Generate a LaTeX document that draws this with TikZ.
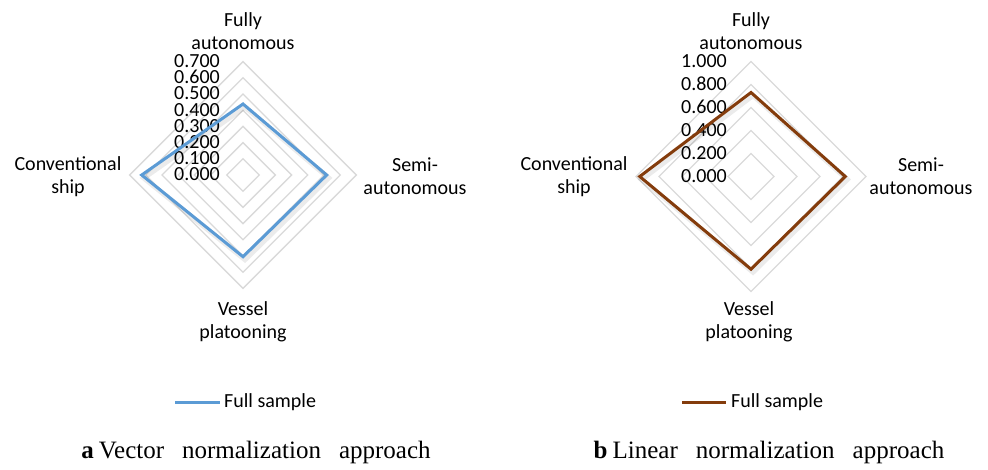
\documentclass[tikz,border=0pt]{standalone}
\usepackage{fontspec}
\setmainfont{Liberation Serif}
\newfontfamily\calibri{Carlito}
\usetikzlibrary{positioning}
\definecolor{vecblue}{RGB}{91,155,213}
\definecolor{linbrown}{RGB}{132,60,12}
\definecolor{ringgray}{RGB}{217,217,217}
\tikzset{
  ring/.style={draw=ringgray, line width=1.3pt},
  catlabel/.style={font=\calibri\fontsize{20}{23}\selectfont, align=center, inner sep=0pt},
  ticklabel/.style={font=\calibri\fontsize{20}{20}\selectfont, anchor=east, inner sep=0pt,
    text height=12.5pt, text depth=0pt, yshift=-6pt, anchor=south east},
  legendtext/.style={font=\calibri\fontsize{20}{20}\selectfont, anchor=west, inner sep=0pt},
  captiontext/.style={font=\fontsize{25}{28}\selectfont, inner sep=0pt},
  seriesshadow/.style={draw=black, line width=5pt, opacity=0.08, line join=miter},
  series/.style={line width=3pt, line join=miter},
}

\begin{document}
\begin{tikzpicture}[x=1pt, y=-1pt]
    \useasboundingbox (0,0) rectangle (988,469);

    % (a) vector normalization
    \begin{scope}[shift={(243,175)}]
        % grid rings, 0.1 apart
        \foreach \k in {1,...,7} {
            \draw[ring] (0,-16.2*\k) -- (16.2*\k,0) -- (0,16.2*\k) -- (-16.2*\k,0) -- cycle;
        }
        % axis values
        \foreach \k in {0,...,7} {
            \node[ticklabel] (va\k) at (-23,-16.2*\k) {0.\k00};
        }
        % data points
        \coordinate (afa) at (0,-71);
        \coordinate (asa) at (83.7,0);
        \coordinate (avp) at (0,81.7);
        \coordinate (acs) at (-101.3,0);
        \draw[seriesshadow, transform canvas={xshift=2pt, yshift=-3pt}] (afa) -- (asa) -- (avp) -- (acs) -- cycle;
        \draw[series, vecblue] (afa) -- (asa) -- (avp) -- (acs) -- cycle;
        % categories
        \node[catlabel] (atop) at (0,-143.5) {Fully\\autonomous};
        \node[catlabel] (aright) at (172,1.5) {Semi-\\autonomous};
        \node[catlabel] (aleft) at (-175,1.5) {Conventional\\ship};
        \node[catlabel] (abottom) at (0,146.5) {Vessel\\platooning};
    \end{scope}

    % legend (a)
    \coordinate (alegA) at (175,402);
    \coordinate (alegB) at (220,402);
    \draw[vecblue, line width=3pt] (alegA) -- (alegB);
    \node[legendtext] (alegtext) at (224,402) {Full sample};

    % (b) linear normalization
    \begin{scope}[shift={(751,176.5)}]
        % grid rings, 0.2 apart
        \foreach \k in {1,...,5} {
            \draw[ring] (0,-23*\k) -- (23*\k,0) -- (0,23*\k) -- (-23*\k,0) -- cycle;
        }
        % axis values
        \foreach \k/\v in {0/0.000,1/0.200,2/0.400,3/0.600,4/0.800,5/1.000} {
            \node[ticklabel] (vb\k) at (-24,-23*\k) {\v};
        }
        % data points
        \coordinate (bfa) at (0,-84);
        \coordinate (bsa) at (94.3,0);
        \coordinate (bvp) at (0,92.7);
        \coordinate (bcs) at (-111.3,0);
        \draw[seriesshadow, transform canvas={xshift=2pt, yshift=-3pt}] (bfa) -- (bsa) -- (bvp) -- (bcs) -- cycle;
        \draw[series, linbrown] (bfa) -- (bsa) -- (bvp) -- (bcs) -- cycle;
        % categories
        \node[catlabel] (btop) at (0,-145) {Fully\\autonomous};
        \node[catlabel] (bright) at (170,0) {Semi-\\autonomous};
        \node[catlabel] (bleft) at (-177,0) {Conventional\\ship};
        \node[catlabel] (bbottom) at (-2,145.5) {Vessel\\platooning};
    \end{scope}

    % legend (b)
    \coordinate (blegA) at (682,402);
    \coordinate (blegB) at (726,402);
    \draw[linbrown, line width=3pt] (blegA) -- (blegB);
    \node[legendtext] (blegtext) at (731,402) {Full sample};

    % captions
    \node[captiontext] (capa) at (256,452) {\textbf{a}\hspace{5pt}Vector\hspace{18pt}normalization\hspace{18pt}approach};
    \node[captiontext] (capb) at (769,452) {\textbf{b}\hspace{5pt}Linear\hspace{18pt}normalization\hspace{18pt}approach};
\end{tikzpicture}
\end{document}
